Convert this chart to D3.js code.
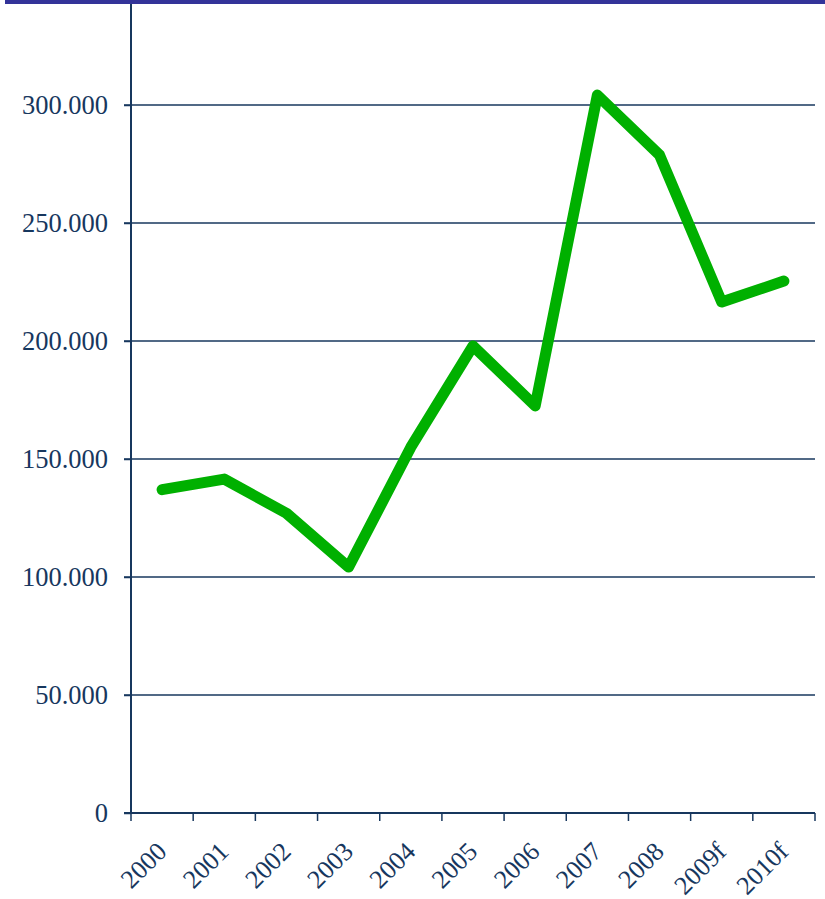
<!DOCTYPE html>
<html>
<head>
<meta charset="utf-8">
<script src="https://cdn.jsdelivr.net/npm/d3@7"></script>
<style>
  body { margin: 0; background: #fff; }
  svg { display: block; }
</style>
</head>
<body>
<svg id="chart" width="825" height="899"></svg>
<script>
// chart data
const years = ["2000", "2001", "2002", "2003", "2004", "2005", "2006", "2007", "2008", "2009f", "2010f"];
const values = [137000, 141500, 127000, 104200, 155000, 197900, 172500, 304200, 278800, 216500, 225400];
const yTicks = [0, 50000, 100000, 150000, 200000, 250000, 300000];

const axisColor = "#17375e";
const lineColor = "#00b000";
const labelFont = "Liberation Serif, Times New Roman, serif";

const svg = d3.select("#chart");

const left = 131, right = 815, bottom = 813;
const pxPer50k = 118;

const x = d3.scaleBand().domain(years).range([left, right]);
const y = d3.scaleLinear()
  .domain([0, 350000])
  .range([bottom, bottom - 7 * pxPer50k]);

const fmt = (d) => d === 0 ? "0" : d3.format(",")(d).replace(/,/g, ".");

// gridlines
svg.append("g")
  .selectAll("line")
  .data(yTicks.filter((d) => d > 0))
  .enter()
  .append("line")
  .attr("x1", left - 7)
  .attr("x2", right)
  .attr("y1", (d) => y(d))
  .attr("y2", (d) => y(d))
  .attr("stroke", axisColor)
  .attr("stroke-width", 1.5);

// y axis
const yAxis = svg.append("g")
  .attr("transform", `translate(${left},0)`)
  .call(d3.axisLeft(y).tickValues(yTicks).tickFormat(fmt).tickSize(7).tickPadding(16));
yAxis.select(".domain").remove();
yAxis.append("line")
  .attr("x1", 0).attr("x2", 0)
  .attr("y1", 0).attr("y2", bottom)
  .attr("stroke", axisColor)
  .attr("stroke-width", 2);
yAxis.selectAll(".tick line").attr("stroke", axisColor).attr("stroke-width", 1.5);
yAxis.selectAll(".tick text")
  .attr("fill", axisColor)
  .attr("font-family", labelFont)
  .attr("font-size", 26.5);

// x axis
const xAxis = svg.append("g")
  .attr("transform", `translate(0,${bottom})`);
xAxis.append("line")
  .attr("x1", left - 7).attr("x2", right)
  .attr("stroke", axisColor)
  .attr("stroke-width", 2);
xAxis.selectAll("line.tk")
  .data(years.concat(["end"]))
  .enter()
  .append("line")
  .attr("class", "tk")
  .attr("x1", (d, i) => left + i * x.step())
  .attr("x2", (d, i) => left + i * x.step())
  .attr("y1", 0)
  .attr("y2", 8)
  .attr("stroke", axisColor)
  .attr("stroke-width", 1.5);
xAxis.selectAll("text")
  .data(years)
  .enter()
  .append("text")
  .attr("transform", (d) => `translate(${x(d) + x.bandwidth() / 2 + 6},${40}) rotate(-45)`)
  .attr("text-anchor", "end")
  .attr("fill", axisColor)
  .attr("font-family", labelFont)
  .attr("font-size", 26)
  .text((d) => d);

// series line
const line = d3.line()
  .x((d, i) => x(years[i]) + x.bandwidth() / 2)
  .y((d) => y(d));

svg.append("path")
  .datum(values)
  .attr("d", line)
  .attr("fill", "none")
  .attr("stroke", lineColor)
  .attr("stroke-width", 11)
  .attr("stroke-linecap", "round")
  .attr("stroke-linejoin", "round");

// top border bar
svg.append("rect")
  .attr("x", 5)
  .attr("y", 0)
  .attr("width", 820)
  .attr("height", 4)
  .attr("fill", "#333399");
</script>
</body>
</html>
